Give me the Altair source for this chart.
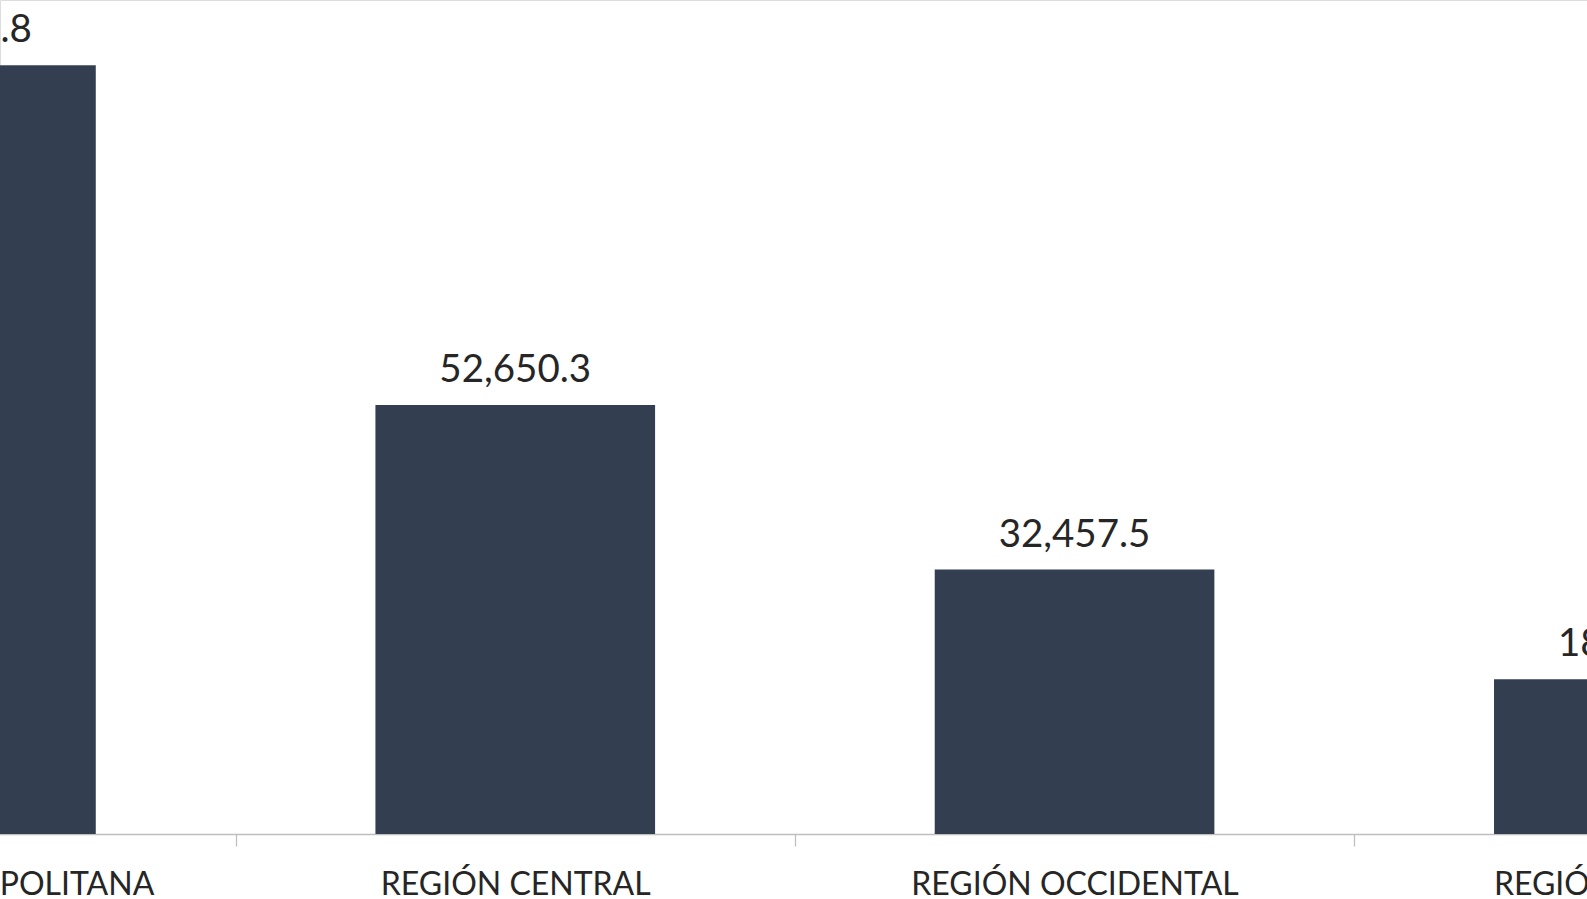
import altair as alt
import pandas as pd

regions = ["REGIÓN METROPOLITANA", "REGIÓN CENTRAL", "REGIÓN OCCIDENTAL", "REGIÓN ORIENTAL"]
values = [94358.8, 52650.3, 32457.5, 18990.2]
labels = ["94,358.8", "52,650.3", "32,457.5", "18,990.2"]

df = pd.DataFrame({"region": regions, "value": values, "label": labels})

BAR = "#333F50"
TXT = "#262626"
FONT = "Lato"

step = 559.3
x0 = -323.7
xscale = alt.Scale(domain=regions, range=[x0, x0 + 4 * step], paddingInner=0.5, paddingOuter=0.25)
yscale = alt.Scale(domain=[0, 102370], nice=False, zero=True)

base = alt.Chart(df)

bars = base.mark_bar(color=BAR).encode(
    x=alt.X("region:N", scale=xscale, sort=regions,
            axis=alt.Axis(title=None, domainColor="#BFBFBF", domainWidth=1.3,
                          tickColor="#BFBFBF", tickWidth=1.3, tickSize=12,
                          tickOffset=-step / 2, labelOffset=step / 2,
                          labelFont=FONT, labelFontSize=32, labelColor=TXT,
                          labelBaseline="alphabetic", labelPadding=48,
                          labelAngle=0, labelOverlap=False, labelLimit=0,
                          labelFlush=False)),
    y=alt.Y("value:Q", scale=yscale, axis=None),
)

text = base.mark_text(font=FONT, fontSize=38.5, color=TXT, baseline="alphabetic", dy=-23).encode(
    x=alt.X("region:N", scale=xscale, sort=regions),
    y=alt.Y("value:Q", scale=yscale),
    text="label:N",
)

chart = alt.layer(bars, text).properties(
    width=1587, height=834,
    padding={"left": 0, "top": 0, "right": 0, "bottom": 65},
    autosize=alt.AutoSizeParams(type="none"),
).configure_view(stroke=None).configure(background="white")

chart.save("out.html", embed_options={"renderer": "svg", "actions": False})
